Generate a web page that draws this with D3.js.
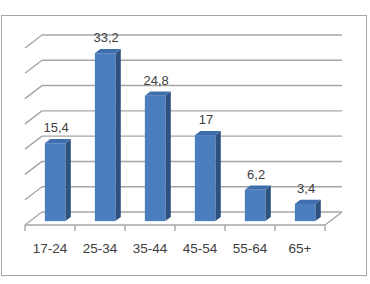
<!DOCTYPE html>
<html>
<head>
<meta charset="utf-8">
<script src="https://cdn.jsdelivr.net/npm/d3@7"></script>
<style>
  body { margin: 0; background: #fff; }
  svg text { font-family: "Liberation Sans", Arial, sans-serif; fill: #404040; }
</style>
</head>
<body>
<div id="chart"></div>
<script>
// donnees
const categories = ["17-24", "25-34", "35-44", "45-54", "55-64", "65+"];
const values = [15.4, 33.2, 24.8, 17, 6.2, 3.4];
const valueLabels = ["15,4", "33,2", "24,8", "17", "6,2", "3,4"];

const W = 370, H = 284;
const svg = d3.select("#chart").append("svg")
    .attr("width", W)
    .attr("height", H);

// cadre exterieur
svg.append("rect")
    .attr("x", 1.5).attr("y", 15.5)
    .attr("width", 365).attr("height", 260)
    .attr("fill", "#fff")
    .attr("stroke", "#a6a6a6");

// perspective: vecteur de profondeur (avant -> arriere)
const depth = { dx: 17, dy: -13 };
const floorY = 225;

let x = d3.scaleBand()
    .domain(categories)
    .range([25, 325])
    .paddingInner(0).paddingOuter(0);

let y = d3.scaleLinear()
    .domain([0, 35])
    .range([0, 177]);

const gridColor = "#a6a6a6";
const backY = floorY + depth.dy;

// lignes du mur du fond + diagonales du mur gauche
let ticks = y.ticks(7);
let grid = svg.append("g");
ticks.forEach(t => {
    let yy = backY - y(t);
    grid.append("line")
        .attr("x1", 25 + depth.dx).attr("x2", 325 + depth.dx)
        .attr("y1", yy).attr("y2", yy)
        .attr("stroke", gridColor).attr("stroke-width", 1.4);
    grid.append("line")
        .attr("x1", 25).attr("y1", yy - depth.dy)
        .attr("x2", 25 + depth.dx).attr("y2", yy)
        .attr("stroke", gridColor).attr("stroke-width", 1.4);
});

// sol
grid.append("line")
    .attr("x1", 25).attr("x2", 325)
    .attr("y1", floorY).attr("y2", floorY)
    .attr("stroke", gridColor).attr("stroke-width", 1.4);
grid.append("line")
    .attr("x1", 325).attr("y1", floorY)
    .attr("x2", 325 + depth.dx).attr("y2", backY)
    .attr("stroke", gridColor).attr("stroke-width", 1.4);

// axe X (graduations sous le sol)
let xAxis = svg.append("g")
    .attr("transform", `translate(0,${floorY})`)
    .call(d3.axisBottom(x).tickSizeOuter(0));
xAxis.select(".domain").remove();
xAxis.selectAll(".tick line").remove();
xAxis.selectAll("text")
    .attr("y", 27.5)
    .attr("dy", null)
    .style("font-size", "13.5px")
    .attr("fill", "#404040");
let sepTicks = categories.map(c => x(c)).concat([x.range()[1]]);
svg.append("g").selectAll("line")
    .data(sepTicks)
    .enter().append("line")
    .attr("x1", d => d).attr("x2", d => d)
    .attr("y1", floorY).attr("y2", floorY + 6)
    .attr("stroke", gridColor).attr("stroke-width", 1.4);

// barres 3D
const tFront = 0.3, tBack = 0.62;
const barW = 20.5;
const fdx = depth.dx * tFront, fdy = depth.dy * tFront;
const bdx = depth.dx * (tBack - tFront), bdy = depth.dy * (tBack - tFront);

let bars = svg.append("g").selectAll("g")
    .data(values)
    .enter().append("g");

function bx(i) { return x(categories[i]) + x.bandwidth() / 2 - barW / 2 + fdx; }
function by0() { return floorY + fdy; }

bars.append("path")   // cote
    .attr("d", (d, i) => {
        let x1 = bx(i) + barW, yb = by0(), yt = by0() - y(d);
        return `M${x1},${yb}L${x1 + bdx},${yb + bdy}L${x1 + bdx},${yt + bdy}L${x1},${yt}Z`;
    })
    .attr("fill", "#2e527f");

bars.append("path")   // dessus
    .attr("d", (d, i) => {
        let x0 = bx(i), yt = by0() - y(d);
        return `M${x0},${yt}L${x0 + bdx},${yt + bdy}L${x0 + barW + bdx},${yt + bdy}L${x0 + barW},${yt}Z`;
    })
    .attr("fill", "#3f6ead");

bars.append("rect")   // face avant
    .attr("x", (d, i) => bx(i))
    .attr("y", d => by0() - y(d))
    .attr("width", barW)
    .attr("height", d => y(d))
    .attr("fill", "#4a7ebf");

// etiquettes de valeurs
bars.append("text")
    .attr("x", (d, i) => bx(i) + barW / 2 + 1)
    .attr("y", d => by0() - y(d) + bdy - 7)
    .attr("text-anchor", "middle")
    .style("font-size", "13px")
    .text((d, i) => valueLabels[i]);
</script>
</body>
</html>
